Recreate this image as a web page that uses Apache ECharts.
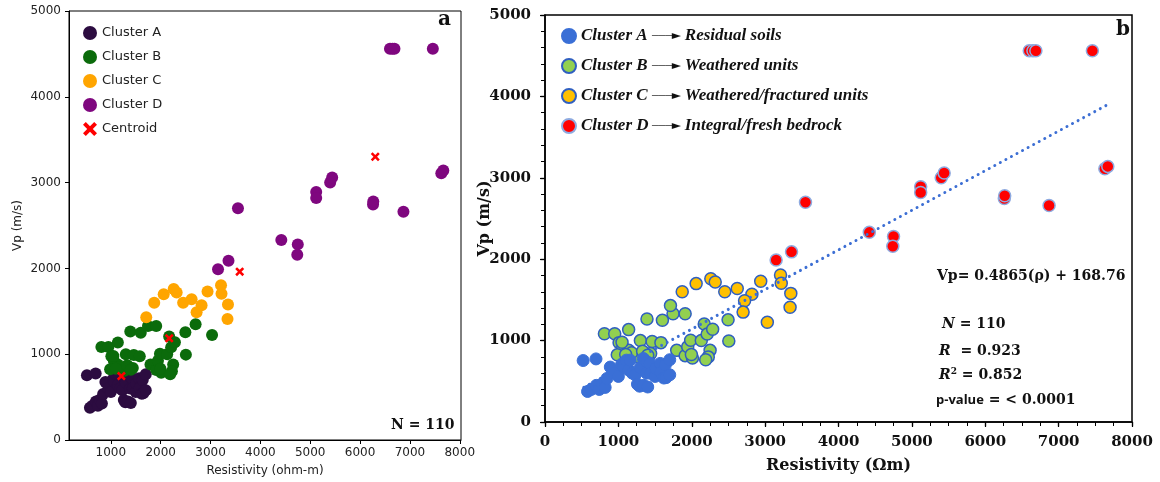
<!DOCTYPE html>
<html><head><meta charset="utf-8">
<script src="https://cdn.jsdelivr.net/npm/echarts@6/dist/echarts.min.js"></script>
<style>html,body{margin:0;padding:0;background:#fff}#c{width:1160px;height:482px}</style>
</head><body><div id="c"></div>
<script>
// ---- data (Resistivity ohm-m, Vp m/s) ----
const clusterA = [[520,755],[695,775],[580,375],[630,400],[700,450],[740,400],[780,470],[820,425],[845,535],[890,675],[950,600],[1000,560],[1045,710],[1070,680],[1110,760],[1140,640],[1160,760],[1190,600],[1230,580],[1260,465],[1290,440],[1300,670],[1340,780],[1345,450],[1385,600],[1400,430],[1390,740],[1430,720],[1440,600],[1500,560],[1510,660],[1570,720],[1580,610],[1620,540],[1640,700],[1650,545],[1700,580],[1700,765]];
const clusterB = [[810,1085],[950,1085],[1010,975],[1060,920],[1140,880],[985,825],[1140,1135],[1300,1000],[1390,1265],[1460,990],[1580,975],[1600,1250],[1745,1330],[1910,1330],[1260,805],[1350,840],[1440,840],[1795,880],[1910,815],[1945,925],[1985,1005],[2010,785],[1995,830],[2130,1000],[2170,1205],[2210,1080],[2285,1140],[2250,880],[2225,800],[2190,765],[2495,1255],[2505,995],[1050,980],[1180,850],[1330,870],[1100,830],[1400,820]];
const clusterC = [[1870,1600],[2060,1700],[2260,1760],[2320,1720],[2450,1600],[2620,1640],[2820,1570],[2720,1490],[2940,1730],[3210,1805],[3220,1705],[3350,1580],[3340,1410]];
const clusterD = [[6600,4560],[6650,4560],[6690,4560],[7460,4560],[7630,3110],[7670,3140],[6260,2745],[6265,2780],[6870,2660],[5400,3000],[5440,3060],[5120,2890],[5120,2820],[3550,2700],[4420,2330],[4750,2280],[4740,2160],[3360,2090],[3150,1990]];
// points whose cluster differs between panel a and panel b
const cInA_bInB = [[1710,1430]];
const bInA_cInB = [[3030,1225],[2700,1350]];
const centroids = [[1210,745],[2170,1185],[3585,1962],[6305,3302]];
const trendLine = [[530,426],[7690,3910]];
const xTicksA = [1000,2000,3000,4000,5000,6000,7000,8000];
const legendDescB = ['Residual soils','Weathered units','Weathered/fractured units','Integral/fresh bedrock'];

const X_PATH = 'path://M0,2 L2,0 L5,3 L8,0 L10,2 L7,5 L10,8 L8,10 L5,7 L2,10 L0,8 L3,5 Z';
const serifB = '"DejaVu Serif"';
const plain = v => String(v);
const chart = echarts.init(document.getElementById('c'));

const namesB = ['Cluster A ','Cluster B ','Cluster C ','Cluster D '];
const bBorder = '#2f5fc0';

chart.setOption({
  animation: false,
  grid: [
    {left: 69, top: 11, width: 392, height: 429, show: true, borderColor: '#000', borderWidth: 1, backgroundColor: 'transparent'},
    {left: 545, top: 15, width: 587, height: 407, show: true, borderColor: '#000', borderWidth: 1.5, backgroundColor: 'transparent'}
  ],
  xAxis: [
    {gridIndex: 0, type: 'value', min: 160, max: 8025,
     axisLine: {lineStyle: {color: '#000', width: 1}},
     axisTick: {show: true, length: 4, lineStyle: {color: '#000'}, customValues: xTicksA},
     axisLabel: {customValues: xTicksA, formatter: plain, color: '#222', fontFamily: 'DejaVu Sans', fontSize: 12, margin: 7},
     splitLine: {show: false},
     name: 'Resistivity (ohm-m)', nameLocation: 'middle', nameGap: 25,
     nameTextStyle: {fontFamily: 'DejaVu Sans', fontSize: 12, color: '#222'}},
    {gridIndex: 1, type: 'value', min: 0, max: 8000, interval: 1000,
     axisLine: {lineStyle: {color: '#000', width: 1.5}},
     axisTick: {show: true, length: 5, lineStyle: {color: '#000', width: 1.2}},
     axisLabel: {formatter: plain, color: '#111', fontFamily: serifB, fontWeight: 'bold', fontSize: 15, margin: 13},
     splitLine: {show: false},
     name: 'Resistivity (Ωm)', nameLocation: 'middle', nameGap: 36,
     nameTextStyle: {fontFamily: serifB, fontWeight: 'bold', fontSize: 16, color: '#111'}},
    {gridIndex: 1, type: 'value', min: 0, max: 8000, interval: 1000,
     axisLine: {show: false},
     axisTick: {show: true, inside: true, length: 4, lineStyle: {color: '#000', width: 1.2}},
     minorTick: {show: true, splitNumber: 4, length: 4, lineStyle: {color: '#000', width: 1}},
     axisLabel: {show: false}, splitLine: {show: false}}
  ],
  yAxis: [
    {gridIndex: 0, type: 'value', min: 0, max: 5000, interval: 1000,
     axisLine: {show: true, lineStyle: {color: '#000', width: 1}},
     axisTick: {show: true, length: 4, lineStyle: {color: '#000'}},
     axisLabel: {formatter: plain, color: '#222', fontFamily: 'DejaVu Sans', fontSize: 12, margin: 8},
     splitLine: {show: false},
     name: 'Vp (m/s)', nameLocation: 'middle', nameGap: 45,
     nameTextStyle: {fontFamily: 'DejaVu Sans', fontSize: 12, color: '#222'}},
    {gridIndex: 1, type: 'value', min: 0, max: 5000, interval: 1000,
     axisLine: {show: true, lineStyle: {color: '#000', width: 1.5}},
     axisTick: {show: true, length: 5, lineStyle: {color: '#000', width: 1.2}},
     axisLabel: {formatter: plain, color: '#111', fontFamily: serifB, fontWeight: 'bold', fontSize: 15, margin: 14},
     splitLine: {show: false},
     name: 'Vp (m/s)', nameLocation: 'middle', nameGap: 52, nameMoveOverlap: false,
     nameTextStyle: {fontFamily: serifB, fontWeight: 'bold', fontSize: 16, color: '#111'}},
    {gridIndex: 1, type: 'value', min: 0, max: 5000, interval: 1000,
     axisLine: {show: false},
     axisTick: {show: true, inside: true, length: 4, lineStyle: {color: '#000', width: 1.2}},
     minorTick: {show: true, splitNumber: 5, length: 4, lineStyle: {color: '#000', width: 1}},
     axisLabel: {show: false}, splitLine: {show: false}}
  ],
  legend: [
    {left: 78, top: 20, orient: 'vertical', itemWidth: 14, itemHeight: 14, itemGap: 8, itemTextGap: 6,
     data: [
       {name: 'Cluster A', icon: 'circle'}, {name: 'Cluster B', icon: 'circle'},
       {name: 'Cluster C', icon: 'circle'}, {name: 'Cluster D', icon: 'circle'},
       {name: 'Centroid', icon: X_PATH, itemStyle: {color: '#ff0000'}}],
     textStyle: {fontFamily: 'DejaVu Sans', fontSize: 13, color: '#222', lineHeight: 16}},
    {left: 556, top: 21, orient: 'vertical', itemWidth: 14, itemHeight: 14, itemGap: 10, itemTextGap: 6,
     data: namesB.map(n => ({name: n, icon: 'circle'})),
     formatter: function (name) {
       const i = namesB.indexOf(name);
       return '{c|' + name.trim() + '}{ln|───}{hd|►}{d|' + legendDescB[i] + '}';
     },
     textStyle: {lineHeight: 20, rich: {
       c: {fontFamily: '"Liberation Serif"', fontWeight: 'bold', fontStyle: 'italic', fontSize: 17, color: '#111', width: 71},
       ln: {fontFamily: 'DejaVu Sans', fontSize: 11, color: '#555'},
       hd: {fontFamily: 'DejaVu Sans', fontSize: 12, color: '#111', width: 13},
       d: {fontFamily: '"Liberation Serif"', fontWeight: 'bold', fontStyle: 'italic', fontSize: 17, color: '#111'}
     }}}
  ],
  series: [
    // panel a
    {name: 'Cluster A', type: 'scatter', xAxisIndex: 0, yAxisIndex: 0, symbolSize: 12, data: clusterA, itemStyle: {color: '#2c0c40', opacity: 1}},
    {name: 'Cluster B', type: 'scatter', xAxisIndex: 0, yAxisIndex: 0, symbolSize: 12, data: clusterB.concat(bInA_cInB), itemStyle: {color: '#0b6b0b', opacity: 1}},
    {name: 'Cluster C', type: 'scatter', xAxisIndex: 0, yAxisIndex: 0, symbolSize: 12, data: clusterC.concat(cInA_bInB), itemStyle: {color: '#ffa500', opacity: 1}},
    {name: 'Cluster D', type: 'scatter', xAxisIndex: 0, yAxisIndex: 0, symbolSize: 12, data: clusterD, itemStyle: {color: '#7f077f', opacity: 1}},
    {name: 'Centroid', type: 'scatter', xAxisIndex: 0, yAxisIndex: 0, symbol: X_PATH, symbolSize: 9, data: centroids, itemStyle: {color: '#ff0000', opacity: 1}, z: 5},
    // panel b
    {name: 'Cluster B ', type: 'scatter', xAxisIndex: 1, yAxisIndex: 1, symbolSize: 12, data: clusterB.concat(cInA_bInB), itemStyle: {color: '#92d050', borderColor: bBorder, borderWidth: 1.5, opacity: 1}, z: 2},
    {name: 'Cluster C ', type: 'scatter', xAxisIndex: 1, yAxisIndex: 1, symbolSize: 12, data: clusterC.concat(bInA_cInB), itemStyle: {color: '#ffc000', borderColor: bBorder, borderWidth: 1.5, opacity: 1}, z: 2},
    {name: 'Cluster D ', type: 'scatter', xAxisIndex: 1, yAxisIndex: 1, symbolSize: 12, data: clusterD, itemStyle: {color: '#ff0000', borderColor: '#8eaae0', borderWidth: 1.5, opacity: 1}, z: 2},
    {name: 'trend', type: 'line', xAxisIndex: 1, yAxisIndex: 1, data: trendLine, symbol: 'none', z: 3,
     lineStyle: {color: '#3d6fd4', width: 3, type: [0.01, 6.3], cap: 'round'}},
    {name: 'Cluster A ', type: 'scatter', xAxisIndex: 1, yAxisIndex: 1, symbolSize: 12, data: clusterA, itemStyle: {color: '#3a6fd6', borderColor: '#3a6fd6', borderWidth: 1, opacity: 1}, z: 4}
  ],
  graphic: [
    {type: 'text', left: 438, top: 10, style: {text: 'a', font: 'bold 20px "DejaVu Serif"', fill: '#111'}},
    {type: 'text', left: 391, top: 418, style: {text: 'N = 110', font: 'bold 14px "DejaVu Serif"', fill: '#111'}},
    {type: 'text', left: 1116, top: 20, style: {text: 'b', font: 'bold 20px "DejaVu Serif"', fill: '#111'}},
    {type: 'text', left: 937, top: 269, style: {text: 'Vp= 0.4865(ρ) + 168.76', font: 'bold 14px "DejaVu Serif"', fill: '#111'}},
    {type: 'text', left: 942, top: 317, style: {text: '{i|N} = 110', font: 'bold 14px "DejaVu Serif"', fill: '#111',
      rich: {i: {fontFamily: 'DejaVu Serif', fontWeight: 'bold', fontStyle: 'italic', fontSize: 14, fill: '#111'}}}},
    {type: 'text', left: 939, top: 344, style: {text: '{i|R}  = 0.923', font: 'bold 14px "DejaVu Serif"', fill: '#111',
      rich: {i: {fontFamily: 'DejaVu Serif', fontWeight: 'bold', fontStyle: 'italic', fontSize: 14, fill: '#111'}}}},
    {type: 'text', left: 939, top: 367, style: {text: '{i|R}{s|2} = 0.852', font: 'bold 14px "DejaVu Serif"', fill: '#111',
      rich: {i: {fontFamily: 'DejaVu Serif', fontWeight: 'bold', fontStyle: 'italic', fontSize: 14, fill: '#111'},
             s: {fontFamily: 'DejaVu Serif', fontWeight: 'bold', fontSize: 9, fill: '#111', padding: [0, 0, 8, 0]}}}},
    {type: 'text', left: 936, top: 393, style: {text: '{p|p-value} = < 0.0001', font: 'bold 14px "DejaVu Serif"', fill: '#111',
      rich: {p: {fontFamily: 'Open Sans', fontWeight: 'bold', fontSize: 13, fill: '#111'}}}}
  ]
});
</script></body></html>
